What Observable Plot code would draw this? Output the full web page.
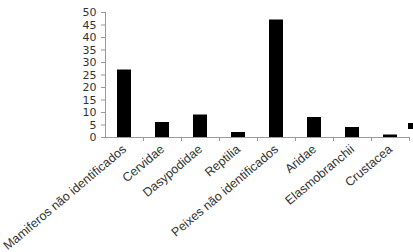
<!DOCTYPE html>
<html>
<head>
<meta charset="utf-8">
<script src="https://cdn.jsdelivr.net/npm/d3@7"></script>
<script src="https://cdn.jsdelivr.net/npm/@observablehq/plot@0.6"></script>
<style>
  html, body { margin: 0; padding: 0; background: #fff; }
  #wrap { position: relative; width: 413px; height: 252px; overflow: hidden; }
  #legend { position: absolute; left: 408px; top: 123px; width: 6px; height: 6px; background: #000; }
</style>
</head>
<body>
<div id="wrap"><div id="legend"></div></div>
<script>
const categories = [
  "Mamiferos não identificados",
  "Cervidae",
  "Dasypodidae",
  "Reptilia",
  "Peixes não identificados",
  "Aridae",
  "Elasmobranchii",
  "Crustacea"
];
const values = [27, 6, 9, 2, 47, 8, 4, 1];
const yTicks = [0, 5, 10, 15, 20, 25, 30, 35, 40, 45, 50];

const data = categories.map((c, i) => ({category: c, value: values[i]}));

const chart = Plot.plot({
  width: 413,
  height: 252,
  marginLeft: 105,
  marginRight: 4,
  marginTop: 12,
  marginBottom: 115,
  style: {fontFamily: "'Liberation Sans', Arial, sans-serif", background: "#fff"},
  x: {domain: categories, paddingInner: 0.62, paddingOuter: 0.31, label: null},
  y: {domain: [0, 50], ticks: yTicks, label: null},
  marks: [
    Plot.barY(data, {x: "category", y: "value", fill: "#000"}),
    Plot.frame({anchor: "left", stroke: "#999"}),
    Plot.ruleY([0], {stroke: "#999"}),
    Plot.axisY({ticks: yTicks, tickSize: 4, tickPadding: 5, stroke: "#999", fill: "#333", fontSize: 11, fontFamily: "'DejaVu Sans', sans-serif", label: null}),
    Plot.axisX({tickSize: 4, text: null, stroke: "#999", dx: 19, label: null}),
    Plot.axisX({tickSize: 0, tickRotate: -40, tickPadding: 10, fill: "#333", fontSize: 12.5, label: null})
  ]
});
document.getElementById("wrap").prepend(chart);
</script>
</body>
</html>
